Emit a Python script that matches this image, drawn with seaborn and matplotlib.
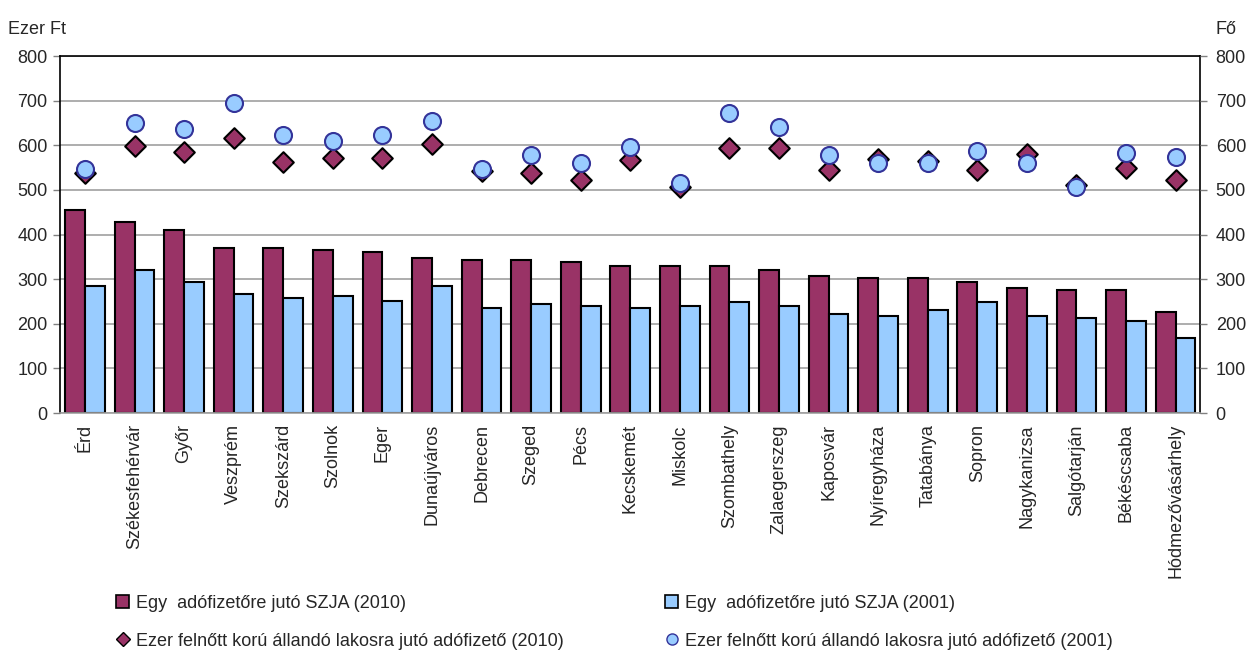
import matplotlib
matplotlib.use("Agg")
import matplotlib.pyplot as plt
from matplotlib.lines import Line2D
from matplotlib.patches import Patch
import seaborn as sns
import pandas as pd

cities = ["Érd", "Székesfehérvár", "Győr", "Veszprém", "Szekszárd", "Szolnok",
          "Eger", "Dunaújváros", "Debrecen", "Szeged", "Pécs", "Kecskemét",
          "Miskolc", "Szombathely", "Zalaegerszeg", "Kaposvár", "Nyíregyháza",
          "Tatabánya", "Sopron", "Nagykanizsa", "Salgótarján", "Békéscsaba",
          "Hódmezővásárhely"]

# Egy adófizetőre jutó SZJA (ezer Ft)
szja_2010 = [455, 429, 410, 369, 369, 365, 360, 347, 343, 343, 338, 330,
             330, 330, 321, 307, 303, 303, 293, 280, 276, 276, 226]
szja_2001 = [285, 321, 293, 267, 257, 262, 250, 285, 235, 244, 240, 235,
             240, 249, 240, 222, 217, 231, 249, 217, 212, 207, 167]

# Ezer felnőtt korú állandó lakosra jutó adófizető (fő)
adofizeto_2010 = [537, 599, 584, 617, 562, 572, 572, 602, 542, 537, 522, 566,
                  507, 595, 595, 544, 569, 564, 544, 581, 511, 548, 522]
adofizeto_2001 = [546, 649, 637, 694, 623, 610, 623, 655, 546, 578, 561, 596,
                  516, 672, 641, 578, 560, 561, 587, 560, 506, 582, 574]

lbl_bar10 = "Egy  adófizetőre jutó SZJA (2010)"
lbl_bar01 = "Egy  adófizetőre jutó SZJA (2001)"
lbl_pt10 = "Ezer felnőtt korú állandó lakosra jutó adófizető (2010)"
lbl_pt01 = "Ezer felnőtt korú állandó lakosra jutó adófizető (2001)"

c_dark = "#993366"
c_light = "#99CCFF"

df = pd.DataFrame({
    "city": cities * 2,
    "value": szja_2010 + szja_2001,
    "series": [lbl_bar10] * len(cities) + [lbl_bar01] * len(cities),
})

sns.set_style("white")
plt.rcParams["font.family"] = ["Liberation Sans", "DejaVu Sans"]

fig = plt.figure(figsize=(12.53, 6.53), dpi=100)
ax = fig.add_axes([0.048, 0.3675, 0.91, 0.5467])

sns.barplot(data=df, x="city", y="value", hue="series", order=cities,
            palette=[c_dark, c_light], saturation=1, edgecolor="black",
            linewidth=1.5, width=0.8, gap=0, ax=ax, legend=False,
            errorbar=None, zorder=2)

ax.set_ylim(0, 800)
ax.set_yticks(range(0, 801, 100))
ax.set_xlim(-0.5, len(cities) - 0.5)
ax.yaxis.grid(True, color="#a0a0a0", linewidth=1.2, zorder=0)
ax.set_axisbelow(True)
ax.set_xlabel("")
ax.set_ylabel("")
for s in ax.spines.values():
    s.set_visible(True)
    s.set_color("black")
    s.set_linewidth(1.2)
ax.spines["bottom"].set_color("#a0a0a0")
ax.tick_params(axis="y", direction="out", length=5, width=1, color="#808080",
               left=True, labelsize=13, pad=4)
ax.tick_params(axis="x", length=0, labelsize=13, pad=8)
plt.setp(ax.get_xticklabels(), rotation=90, va="top", ha="center")

ax2 = ax.twinx()
sns.scatterplot(x=cities, y=adofizeto_2010, marker="D", s=110, color=c_dark,
                edgecolor="black", linewidth=1.5, ax=ax2, zorder=3)
sns.scatterplot(x=cities, y=adofizeto_2001, marker="o", s=150, color=c_light,
                edgecolor="#333399", linewidth=1.5, ax=ax2, zorder=4)
ax2.set_ylim(0, 800)
ax2.set_yticks(range(0, 801, 100))
ax2.set_xlim(-0.5, len(cities) - 0.5)
ax2.tick_params(axis="y", direction="out", length=5, width=1, color="#808080",
                right=True, labelsize=13, pad=6)
for s in ax2.spines.values():
    s.set_visible(False)

fig.text(0.006, 0.955, "Ezer Ft", fontsize=13, ha="left", va="center")
fig.text(0.970, 0.955, "Fő", fontsize=13, ha="left", va="center")

handles = [
    Patch(facecolor=c_dark, edgecolor="black", linewidth=1.2),
    Line2D([], [], marker="D", linestyle="none", markersize=7,
           markerfacecolor=c_dark, markeredgecolor="black"),
    Patch(facecolor=c_light, edgecolor="black", linewidth=1.2),
    Line2D([], [], marker="o", linestyle="none", markersize=8,
           markerfacecolor=c_light, markeredgecolor="#333399"),
]
fig.legend(handles, [lbl_bar10, lbl_pt10, lbl_bar01, lbl_pt01], ncol=2,
           loc="lower left", bbox_to_anchor=(0.08, -0.02), frameon=False,
           fontsize=13, handlelength=0.7, handletextpad=0.4,
           columnspacing=5.6, labelspacing=1.15)

fig.savefig("out.png", dpi=100)
